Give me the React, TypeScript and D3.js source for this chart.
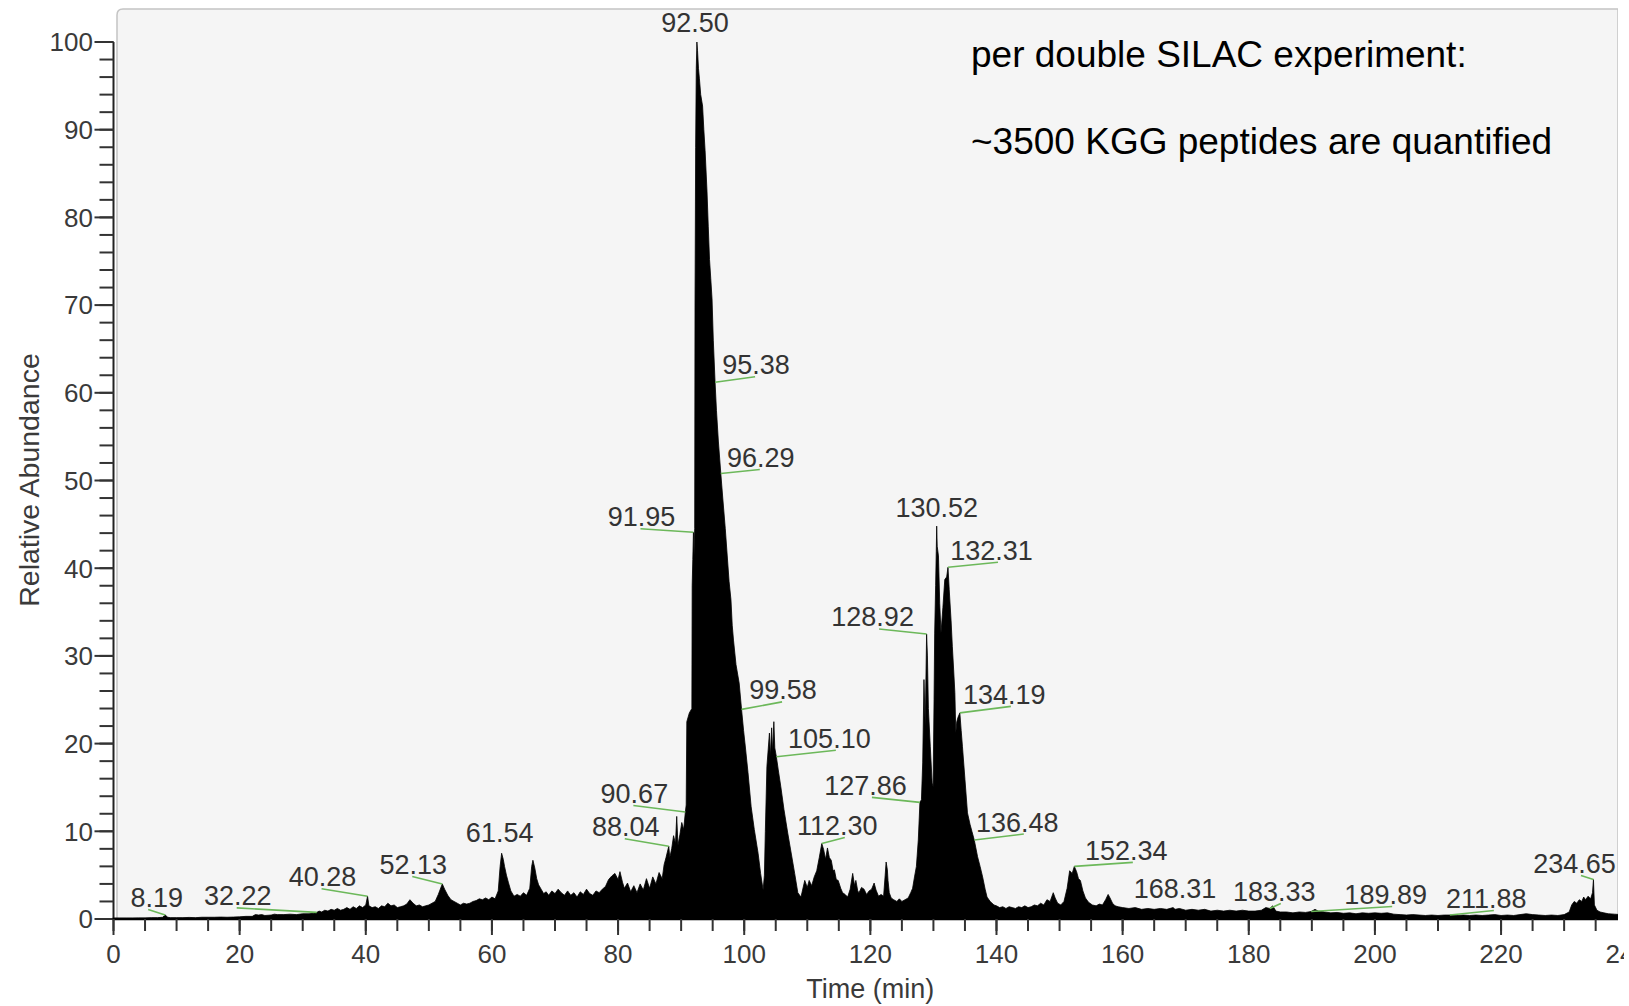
import * as d3 from "d3";
import React from "react";

// chromatogram trace: [time (min), relative abundance %]
const traceEarly: [number, number][] = [
  [0, 0.1], [1, 0.1], [2, 0.1], [3, 0.1], [4, 0.12], [5, 0.12], [6, 0.15], [7, 0.15], [7.8, 0.2],
  [8.19, 0.45], [8.6, 0.2], [9, 0.15], [10, 0.15], [11, 0.15], [12, 0.18], [13, 0.15], [14, 0.2],
  [15, 0.2], [16, 0.2], [17, 0.22], [18, 0.2], [19, 0.22], [20, 0.25], [21, 0.3], [22, 0.3],
  [22.5, 0.5], [23, 0.45], [23.5, 0.5], [24, 0.4], [25, 0.45], [25.5, 0.55], [26, 0.5], [27, 0.5],
  [28, 0.55], [29, 0.5], [30, 0.6], [31, 0.6], [31.7, 0.65], [32.22, 0.75], [32.6, 0.9], [33, 0.8],
  [33.5, 1.0], [34, 0.9], [34.5, 1.1], [35, 1.0], [35.5, 1.2], [36, 1.0], [36.5, 1.1], [37, 1.3],
  [37.5, 1.1], [38, 1.4], [38.5, 1.2], [39, 1.5], [39.5, 1.3], [40, 1.6], [40.28, 2.6], [40.5, 1.5],
  [41, 1.3], [41.5, 1.4], [42, 1.2], [42.5, 1.5], [43, 1.4], [43.5, 1.8], [44, 1.5], [44.5, 1.6],
  [45, 1.3], [45.5, 1.4], [46, 1.5], [46.5, 1.7], [47, 2.2], [47.5, 1.8], [48, 1.5], [48.5, 1.6],
  [49, 1.4], [49.5, 1.5], [50, 1.6], [50.5, 1.8], [51, 2.0], [51.5, 2.8], [52.13, 4.0], [52.5, 3.4],
  [53, 2.7], [53.5, 2.2], [54, 2.0], [54.5, 1.8], [55, 1.6], [55.5, 1.8], [56, 1.7], [56.5, 1.8],
  [57, 2.0], [57.5, 2.1], [58, 2.3], [58.5, 2.2], [59, 2.4], [59.5, 2.2], [60, 2.5],
];

const traceMid: [number, number][] = [
  [60.5, 2.3], [61, 3.2], [61.3, 6.0], [61.54, 7.5], [61.8, 6.8], [62, 6.0], [62.3, 5.0], [62.6, 4.2],
  [63, 3.2], [63.5, 2.6], [64, 2.8], [64.5, 2.6], [65, 3.0], [65.5, 2.7], [66, 3.5], [66.3, 6.0],
  [66.5, 6.7], [66.8, 5.8], [67.1, 4.6], [67.4, 3.9], [67.8, 3.4], [68.2, 2.9], [68.6, 3.1], [69, 2.7],
  [69.5, 3.2], [70, 2.9], [70.5, 3.4], [71, 3.0], [71.5, 2.7], [72, 3.2], [72.5, 2.7], [73, 3.0],
  [73.5, 2.5], [74, 3.1], [74.5, 2.8], [75, 3.4], [75.5, 2.9], [76, 2.7], [76.5, 3.2], [77, 3.0],
  [77.5, 3.4], [78, 3.7], [78.5, 4.5], [79, 4.9], [79.5, 5.2], [80, 4.5], [80.3, 5.4], [80.7, 4.2],
  [81, 3.5], [81.5, 4.1], [82, 3.1], [82.5, 3.8], [83, 3.0], [83.5, 4.0], [84, 3.3], [84.5, 4.6],
  [85, 3.5], [85.5, 4.8], [86, 4.0], [86.5, 5.3], [87, 4.6], [87.3, 6.2], [87.6, 7.0], [88.04, 8.3],
  [88.2, 7.0], [88.5, 8.0], [88.8, 9.5], [89.1, 8.6], [89.3, 11.7], [89.5, 8.4], [89.8, 9.6],
  [90.1, 11.0], [90.4, 10.2], [90.67, 12.2], [90.8, 13.0], [90.9, 22.5], [91.3, 23.5], [91.7, 24.0],
  [91.75, 38.0], [91.85, 41.0], [91.95, 44.1], [92.05, 41.5], [92.15, 44.5], [92.2, 70.0],
];

const traceMain: [number, number][] = [
  [92.3, 88.0], [92.4, 97.0], [92.5, 100.0], [92.6, 99.0], [92.75, 97.0], [92.9, 95.8], [93.1, 94.0],
  [93.4, 92.7], [93.6, 90.0], [93.8, 87.6], [94.1, 83.0], [94.3, 79.0], [94.5, 75.2], [94.7, 73.0],
  [94.9, 70.7], [95.1, 66.0], [95.38, 61.2], [95.6, 58.0], [95.9, 54.5], [96.29, 50.8], [96.6, 48.0],
  [97.0, 44.5], [97.3, 41.5], [97.6, 38.5], [97.9, 36.4], [98.1, 33.5], [98.3, 31.8], [98.7, 29.0],
  [99.2, 26.9], [99.58, 23.9], [99.9, 21.5], [100.2, 19.5], [100.6, 16.7], [101.1, 12.8],
  [101.6, 10.2], [102.2, 7.5], [102.6, 5.2], [103.0, 3.3], [103.2, 5.0], [103.35, 10.0],
  [103.6, 17.4], [104.0, 21.2], [104.15, 18.5], [104.35, 21.8], [104.5, 19.0], [104.7, 22.5],
  [104.85, 19.5], [105.1, 18.5], [105.4, 17.0], [105.8, 15.1], [106.3, 12.5], [106.9, 9.8],
  [107.5, 7.3], [108.0, 5.2], [108.5, 3.0], [109.0, 2.5], [109.6, 4.4], [110.0, 3.6], [110.3, 4.4],
  [110.7, 3.8], [111.1, 4.8], [111.5, 5.5], [111.9, 7.0], [112.3, 8.6], [112.6, 7.9], [112.9, 6.8],
  [113.2, 8.1], [113.5, 7.0], [113.8, 6.7], [114.1, 5.5], [114.3, 5.6], [114.6, 4.5], [114.9, 4.4],
  [115.3, 3.5], [115.6, 3.0], [116.0, 2.8], [116.4, 2.5], [116.8, 3.4], [117.2, 5.2], [117.5, 3.8],
  [117.7, 4.4], [118.0, 3.2], [118.2, 3.0], [118.6, 3.6], [119.0, 3.4], [119.4, 2.8], [119.8, 3.2],
  [120.2, 3.4], [120.6, 4.1], [120.9, 3.3], [121.3, 2.6], [121.7, 2.8], [122.1, 2.6], [122.35, 5.0],
  [122.5, 6.5], [122.7, 5.6], [122.8, 4.4], [123.0, 3.0], [123.3, 2.4], [123.7, 2.2], [124.2, 2.0],
  [124.6, 2.3], [125.0, 2.0], [125.5, 2.2], [126.0, 2.4], [126.4, 3.0], [126.7, 3.5], [127.0, 4.8],
  [127.3, 6.0], [127.6, 9.0],
];

const traceSecond: [number, number][] = [
  [127.86, 13.3], [128.1, 13.6], [128.3, 17.8], [128.5, 27.3], [128.7, 22.0], [128.92, 32.5],
  [129.05, 30.0], [129.2, 24.0], [129.5, 19.7], [129.8, 15.5], [129.95, 15.1], [130.1, 25.0],
  [130.2, 32.6], [130.35, 38.0], [130.45, 41.9], [130.52, 44.8], [130.6, 42.5], [130.8, 41.4],
  [131.0, 36.0], [131.2, 32.6], [131.5, 35.5], [131.8, 38.7], [132.1, 39.0], [132.31, 40.1],
  [132.5, 37.6], [132.8, 34.0], [133.0, 31.1], [133.2, 28.5], [133.4, 25.8], [133.55, 21.2],
  [133.7, 22.5], [133.9, 23.0], [134.19, 23.5], [134.4, 21.5], [134.6, 19.7], [135.0, 15.9],
  [135.4, 12.1], [135.8, 10.8], [136.1, 10.0], [136.48, 9.0], [137.0, 7.1], [137.4, 6.0],
  [137.8, 4.8], [138.2, 3.4], [138.5, 2.5], [139.0, 2.0], [139.6, 1.6], [140.0, 1.5], [140.5, 1.3],
  [141, 1.4], [141.5, 1.2], [142, 1.4], [142.5, 1.3], [143, 1.2], [143.5, 1.4], [144, 1.3],
  [144.5, 1.5], [145, 1.3], [145.5, 1.4], [146, 1.6], [146.5, 1.5], [147, 1.8], [147.5, 1.6],
  [148, 2.2], [148.5, 2.0], [149, 3.0], [149.3, 2.4], [149.7, 1.8], [150.2, 1.6], [150.7, 2.0],
  [151.2, 3.5], [151.6, 5.5], [152.0, 5.2], [152.34, 6.0], [152.7, 5.4], [153.0, 4.6], [153.3, 4.4],
  [153.7, 3.2], [154.1, 2.4], [154.6, 1.9], [155.2, 1.6], [155.8, 1.5], [156.3, 1.7], [156.8, 1.6],
  [157.3, 2.2], [157.7, 2.8], [158.0, 2.4], [158.4, 1.8], [158.8, 1.5], [159.3, 1.4], [160, 1.3],
];

const traceLate: [number, number][] = [
  [161, 1.2], [162, 1.3], [163, 1.1], [164, 1.2], [165, 1.1], [166, 1.2], [167, 1.1], [168, 1.3],
  [168.31, 1.1], [169, 1.2], [170, 1.0], [171, 1.1], [172, 1.0], [173, 1.1], [174, 0.9], [175, 1.0],
  [176, 0.9], [177, 1.0], [178, 0.9], [179, 1.0], [180, 0.9], [181, 0.9], [182, 1.0], [182.7, 1.3],
  [183.33, 1.2], [183.8, 1.5], [184.3, 0.9], [185, 0.8], [186, 0.8], [187, 0.7], [188, 0.8],
  [189, 0.75], [189.89, 0.85], [190.5, 1.1], [191, 0.9], [192, 0.8], [193, 0.7], [194, 0.75],
  [195, 0.65], [196, 0.7], [197, 0.6], [198, 0.7], [199, 0.65], [200, 0.7], [201, 0.65], [202, 0.7],
  [203, 0.55], [204, 0.5], [205, 0.45], [206, 0.5], [207, 0.45], [208, 0.4], [209, 0.45], [210, 0.4],
  [211, 0.45], [211.88, 0.45], [213, 0.4], [214, 0.45], [215, 0.4], [216, 0.45], [217, 0.4],
  [218, 0.45], [219, 0.5], [220, 0.4], [221, 0.45], [222, 0.4], [223, 0.5], [224, 0.6], [225, 0.5],
  [226, 0.45], [227, 0.4], [228, 0.45], [229, 0.4], [230, 0.5], [230.8, 0.8], [231.2, 1.6],
  [231.6, 2.0], [232, 1.8], [232.4, 2.2], [232.8, 2.0], [233.1, 2.5], [233.4, 2.2], [233.8, 2.6],
  [234.2, 2.3], [234.5, 3.0], [234.65, 4.5], [234.8, 1.6], [235.2, 1.0], [235.7, 0.8], [236.3, 0.7],
  [237, 0.6], [238, 0.55], [239, 0.5], [240, 0.5],
];

// retention times printed above the peaks
const peakLabels = [
  8.19, 32.22, 40.28, 52.13, 61.54, 88.04, 90.67, 91.95, 92.5, 95.38, 96.29, 99.58, 105.1,
  112.3, 127.86, 128.92, 130.52, 132.31, 134.19, 136.48, 152.34, 168.31, 183.33, 189.89,
  211.88, 234.65,
];
// where each label's decimal point sits relative to its peak (px)
const labelOffsets: [number, number][] = [
  [-16, -8], [-79, -7], [-45, -10], [-29, -10], [-2, -11], [-43, -10], [-51, -9], [-52, -6],
  [-2, -10], [41, -8], [40, -6.5], [41.5, -10], [60.5, -9], [24, -8.5], [-47, -7.5], [-46.5, -7.5],
  [7.5, -9.5], [51, -7.5], [52, -9], [50.5, -8.5], [59.5, -6.5], [7.5, -11.5], [12, -7.5],
  [82, -7.5], [45, -7], [-11.5, -6.5],
];

const xTickLabels = [0, 20, 40, 60, 80, 100, 120, 140, 160, 180, 200, 220, 240];
const yTickLabels = [0, 10, 20, 30, 40, 50, 60, 70, 80, 90, 100];
const noteLines = ["per double SILAC experiment:", "~3500 KGG peptides are quantified"];

const W = 1629;
const H = 1006;
const FONT = "'Liberation Sans', Arial, sans-serif";
const LABEL_FS = 27;

export default function App() {
  const trace = [...traceEarly, ...traceMid, ...traceMain, ...traceSecond, ...traceLate];

  const x = d3.scaleLinear().domain([0, 240]).range([113.5, 1627.2]);
  const y = d3.scaleLinear().domain([0, 100]).range([919, 42]);

  const area = d3
    .area<[number, number]>()
    .x((d) => x(d[0]))
    .y0(y(0))
    .y1((d) => y(d[1]));

  const valueAt = (t: number) => {
    const i = d3.leastIndex(trace, (d) => Math.abs(d[0] - t)) ?? 0;
    return trace[i][1];
  };

  const digitW = 0.556 * LABEL_FS;
  const dotW = 0.278 * LABEL_FS;

  return (
    <svg
      width={W}
      height={H}
      style={{ position: "absolute", left: 0, top: 0, background: "#fff" }}
      fontFamily={FONT}
    >
      <rect x={0} y={0} width={W} height={H} fill="#fff" />
      {/* plot panel */}
      <path
        d="M117,919 L117,15 Q117,9 123,9 L1618,9 L1618,919 Z"
        fill="#f5f5f5"
        stroke="#c4c4c4"
        strokeWidth={1.5}
      />

      {/* trace */}
      <path d={area(trace) ?? ""} fill="#000" stroke="#000" strokeWidth={0.8} strokeLinejoin="miter" />

      {/* y axis */}
      <line x1={x(0)} x2={x(0)} y1={y(100)} y2={y(0)} stroke="#222" strokeWidth={2} />
      {y.ticks(50).map((v) => (
        <line key={"ym" + v} x1={x(0) - 14} x2={x(0)} y1={y(v)} y2={y(v)} stroke="#333" strokeWidth={2} />
      ))}
      {yTickLabels.map((v) => (
        <g key={"y" + v}>
          <line x1={x(0) - 19} x2={x(0)} y1={y(v)} y2={y(v)} stroke="#333" strokeWidth={2} />
          <text x={93} y={y(v)} dy="0.36em" textAnchor="end" fontSize={26} fill="#3a3a3a">
            {v}
          </text>
        </g>
      ))}
      <text
        transform={`translate(39,${480}) rotate(-90)`}
        textAnchor="middle"
        fontSize={28.5}
        fill="#3a3a3a"
      >
        Relative Abundance
      </text>

      {/* x axis */}
      <line x1={x(0) - 1} x2={W} y1={y(0)} y2={y(0)} stroke="#000" strokeWidth={2.5} />
      {x.ticks(48).map((t) => (
        <line key={"xm" + t} x1={x(t)} x2={x(t)} y1={y(0)} y2={y(0) + 12} stroke="#333" strokeWidth={2} />
      ))}
      {xTickLabels.map((t) => (
        <g key={"x" + t}>
          <line x1={x(t)} x2={x(t)} y1={y(0)} y2={y(0) + 16} stroke="#333" strokeWidth={2} />
          <text x={x(t)} y={963} textAnchor="middle" fontSize={26} fill="#3a3a3a">
            {t}
          </text>
        </g>
      ))}
      <text x={x(120)} y={998} textAnchor="middle" fontSize={27} fill="#3a3a3a">
        Time (min)
      </text>

      {/* peak labels */}
      {peakLabels.map((t, i) => {
        const s = t.toFixed(2);
        const nInt = s.split(".")[0].length;
        const px = x(t);
        const py = y(valueAt(t));
        const [dx, dy] = labelOffsets[i];
        const decX = px + dx;
        const base = py + dy;
        const startX = decX - nInt * digitW - dotW / 2;
        return (
          <g key={"p" + s}>
            {Math.abs(dx) > 9 && (
              <line x1={px} y1={py} x2={decX - 1} y2={base + 2.5} stroke="#6cb85a" strokeWidth={1.6} />
            )}
            <text x={startX} y={base} fontSize={LABEL_FS} fill="#333">
              {s}
            </text>
          </g>
        );
      })}

      {/* note */}
      {noteLines.map((line, i) => (
        <text key={line} x={971} y={67 + i * 86.5} fontSize={37} fill="#000">
          {line}
        </text>
      ))}

      {/* the picture is cut off on the right */}
      <rect x={1618} y={0} width={W - 1618} height={935} fill="#fff" />
      <rect x={1624} y={935} width={W - 1624} height={H - 935} fill="#fff" />
    </svg>
  );
}
